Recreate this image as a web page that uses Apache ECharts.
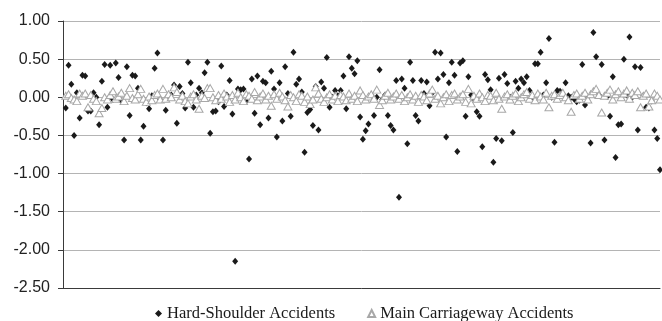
<!DOCTYPE html>
<html>
<head>
<meta charset="utf-8">
<script src="https://cdn.jsdelivr.net/npm/echarts@6/dist/echarts.min.js"></script>
<style>
  html, body { margin: 0; padding: 0; background: #fff; }
  #chart { width: 662px; height: 321px; }
</style>
</head>
<body>
<div id="chart"></div>
<script>
// one value per observation, index 1..215 on the x axis
const hardShoulder = [
  -0.14, 0.42, 0.17, -0.50, 0.06, -0.27, 0.29, 0.28, -0.18, -0.18,
  0.06, 0.00, -0.36, 0.21, 0.43, -0.13, 0.42, -0.03, 0.45, 0.26,
  -0.05, -0.56, 0.40, -0.24, 0.29, 0.28, 0.12, -0.56, -0.38, -0.07,
  -0.15, 0.02, 0.38, 0.58, -0.03, -0.56, -0.17, 0.02, 0.03, 0.16,
  -0.34, 0.14, 0.05, -0.14, 0.46, 0.19, -0.13, 0.03, 0.12, 0.06,
  0.32, 0.46, -0.47, -0.19, -0.18, -0.06, 0.41, -0.12, 0.03, 0.22,
  -0.22, -2.15, 0.11, 0.10, 0.11, -0.05, -0.81, 0.24, -0.21, 0.28,
  -0.36, 0.21, 0.19, -0.27, 0.34, 0.11, -0.52, 0.19, -0.31, 0.40,
  0.05, -0.25, 0.59, 0.17, 0.24, 0.07, -0.72, -0.20, -0.16, -0.37,
  0.14, -0.43, 0.20, 0.12, 0.52, -0.13, 0.00, 0.09, 0.02, 0.09,
  0.28, -0.15, 0.53, 0.38, 0.31, 0.48, -0.26, -0.55, -0.44, -0.35,
  0.03, -0.24, 0.00, 0.36, -0.03, 0.03, -0.24, -0.37, -0.43, 0.22,
  -1.31, 0.24, 0.12, -0.61, 0.46, 0.22, -0.24, -0.31, 0.22, 0.05,
  0.20, -0.11, 0.06, 0.59, 0.24, 0.58, 0.30, -0.52, 0.19, 0.46,
  0.29, -0.71, 0.45, 0.48, -0.25, 0.27, 0.03, -0.02, -0.19, -0.25,
  -0.65, 0.30, 0.23, 0.10, -0.85, -0.54, 0.25, -0.57, 0.30, 0.18,
  0.00, -0.46, 0.21, 0.12, 0.24, 0.19, 0.27, 0.09, -0.02, 0.44,
  0.44, 0.59, 0.03, 0.19, 0.77, 0.00, -0.59, 0.09, 0.08, 0.02,
  0.19, 0.02, 0.00, -0.02, -0.06, -0.04, 0.43, -0.10, 0.00, -0.60,
  0.85, 0.53, 0.03, 0.43, -0.56, 0.01, -0.25, 0.27, -0.79, -0.36,
  -0.35, 0.50, 0.03, 0.79, 0.00, 0.40, -0.43, 0.39, 0.02, -0.13,
  -0.14, -0.05, -0.43, -0.54, -0.95
]

const mainCarriageway = [
  0.02, 0.04, -0.01, -0.03, -0.05, 0.05, 0.02, 0.05, -0.13, 0.03,
  -0.02, -0.05, -0.21, -0.14, 0.00, -0.03, 0.03, 0.08, -0.02, 0.01,
  0.06, -0.05, 0.02, 0.12, -0.01, -0.03, 0.04, 0.11, -0.02, -0.06,
  0.01, -0.04, 0.03, 0.05, -0.03, 0.11, -0.02, 0.04, 0.00, 0.13,
  0.07, -0.03, 0.02, -0.05, -0.08, 0.01, 0.04, -0.03, -0.15, 0.02,
  -0.01, 0.12, 0.12, 0.00, -0.04, 0.03, -0.02, 0.05, 0.01, -0.06,
  0.03, -0.03, 0.06, 0.00, -0.05, 0.04, 0.02, -0.02, 0.07, -0.04,
  0.01, 0.05, -0.03, 0.02, -0.11, 0.04, -0.02, 0.06, 0.01, -0.04,
  -0.12, 0.03, 0.00, -0.05, 0.04, 0.02, -0.06, 0.01, -0.09, -0.03,
  0.13, 0.05, -0.02, -0.06, 0.00, 0.04, -0.03, 0.02, -0.05, 0.03,
  0.01, -0.04, 0.05, -0.02, 0.02, -0.05, 0.09, 0.03, -0.03, 0.01,
  0.04, -0.02, 0.10, -0.10, -0.04, 0.02, 0.06, -0.03, 0.01, 0.05,
  -0.02, 0.03, -0.05, 0.00, 0.04, -0.03, 0.02, -0.06, 0.03, 0.01,
  -0.04, 0.05, 0.10, -0.02, 0.02, -0.08, 0.00, 0.04, -0.05, 0.03,
  0.05, -0.03, 0.01, 0.04, -0.06, 0.11, -0.08, 0.02, -0.02, 0.05,
  0.00, -0.05, 0.03, 0.02, -0.04, 0.06, -0.02, -0.15, 0.01, 0.04,
  -0.03, 0.02, 0.05, -0.05, 0.00, 0.04, 0.07, -0.02, 0.03, -0.04,
  0.05, 0.01, -0.03, 0.06, -0.13, 0.02, 0.04, -0.02, 0.03, 0.06,
  0.00, -0.04, -0.19, 0.03, 0.05, -0.02, 0.02, 0.06, -0.03, 0.04,
  0.08, 0.11, 0.03, -0.20, 0.02, 0.06, 0.10, -0.03, 0.04, 0.08,
  0.00, 0.05, 0.09, -0.02, 0.06, 0.03, 0.08, -0.13, 0.02, 0.05,
  -0.12, -0.04, 0.05, 0.02, -0.03
]

const seriesNames = ['Hard-Shoulder Accidents', 'Main Carriageway Accidents']
const yTicks = { min: -2.5, max: 1.0, step: 0.5 }

const toPoints = (vals) => vals.map((v, i) => [i + 1, v])

const chart = echarts.init(document.getElementById('chart'))

chart.setOption({
  animation: false,
  grid: { left: 63, right: 2, top: 21, bottom: 33, containLabel: false },
  legend: {
    left: 150,
    top: 300,
    itemGap: 32,
    itemWidth: 7,
    itemHeight: 7,
    textStyle: { fontFamily: 'Liberation Serif', fontSize: 16.5, color: '#1a1a1a' },
    data: [
      { name: seriesNames[0], icon: 'diamond' },
      { name: seriesNames[1], icon: 'triangle' },
    ],
  },
  xAxis: {
    type: 'value',
    min: 0,
    max: hardShoulder.length,
    axisLine: { show: true, onZero: false, lineStyle: { color: '#3a3a3a', width: 1 } },
    axisTick: { show: false },
    axisLabel: { show: false },
    splitLine: { show: false },
  },
  yAxis: {
    type: 'value',
    min: yTicks.min,
    max: yTicks.max,
    interval: yTicks.step,
    axisLine: { show: true, lineStyle: { color: '#3a3a3a', width: 1 } },
    axisTick: { show: true, length: 5, lineStyle: { color: '#3a3a3a' } },
    axisLabel: {
      margin: 13,
      color: '#222',
      fontFamily: 'Liberation Sans',
      fontSize: 16,
      formatter: (v) => v.toFixed(2),
    },
    splitLine: { show: true, lineStyle: { color: '#b4b4b4', width: 1 } },
  },
  series: [
    {
      name: seriesNames[0],
      type: 'scatter',
      symbol: 'diamond',
      symbolSize: [6, 7],
      data: toPoints(hardShoulder),
      itemStyle: { color: '#1a1a1a', opacity: 1 },
      z: 2,
    },
    {
      name: seriesNames[1],
      type: 'scatter',
      symbol: 'triangle',
      symbolSize: [8, 7],
      data: toPoints(mainCarriageway),
      itemStyle: { color: '#ffffff', borderColor: '#a8a8a8', borderWidth: 1, opacity: 1 },
      z: 3,
    },
  ],
})
</script>
</body>
</html>
